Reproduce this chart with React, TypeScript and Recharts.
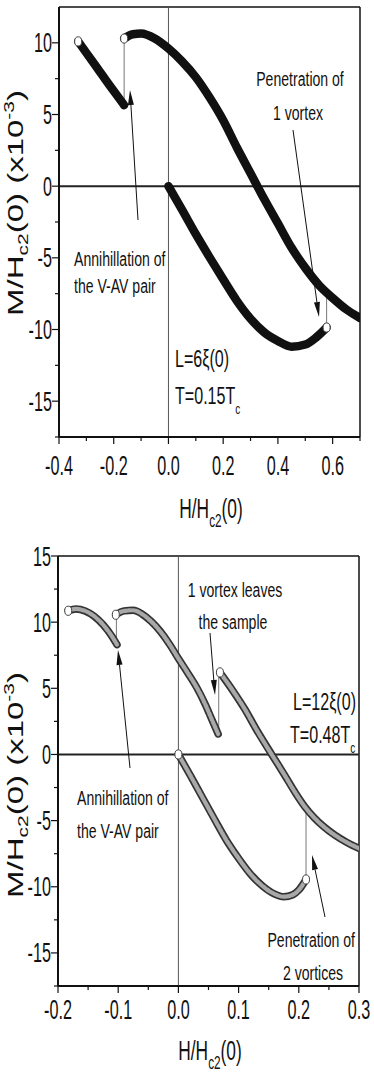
import { ComposedChart, Line, Scatter, XAxis, YAxis, ReferenceLine } from 'recharts'

type Pt = { x: number; y: number }

const FONT = "'Liberation Sans', Arial, Helvetica, sans-serif"
const INK = '#111'

// ---------- upper panel: L=6ξ(0), T=0.15Tc ----------
const topBranchA: Pt[] = [
  { x: -0.33, y: 10.1 }, { x: -0.3, y: 9.3 }, { x: -0.27, y: 8.5 }, { x: -0.24, y: 7.7 },
  { x: -0.21, y: 6.9 }, { x: -0.185, y: 6.25 }, { x: -0.162, y: 5.65 },
]
const topBranchB: Pt[] = [
  { x: -0.162, y: 10.3 }, { x: -0.13, y: 10.6 }, { x: -0.1, y: 10.65 }, { x: -0.05, y: 10.3 },
  { x: 0, y: 9.6 }, { x: 0.05, y: 8.7 }, { x: 0.1, y: 7.6 }, { x: 0.15, y: 6.2 },
  { x: 0.2, y: 4.6 }, { x: 0.25, y: 2.7 }, { x: 0.3, y: 0.9 }, { x: 0.35, y: -0.9 },
  { x: 0.4, y: -2.6 }, { x: 0.45, y: -4.3 }, { x: 0.5, y: -5.7 }, { x: 0.55, y: -6.9 },
  { x: 0.6, y: -7.8 }, { x: 0.65, y: -8.6 }, { x: 0.7, y: -9.2 },
]
const topBranchC: Pt[] = [
  { x: 0, y: 0 }, { x: 0.05, y: -1.65 }, { x: 0.1, y: -3.35 }, { x: 0.15, y: -4.95 },
  { x: 0.2, y: -6.5 }, { x: 0.25, y: -8.0 }, { x: 0.3, y: -9.25 }, { x: 0.35, y: -10.2 },
  { x: 0.4, y: -10.8 }, { x: 0.45, y: -11.2 }, { x: 0.5, y: -11.05 }, { x: 0.54, y: -10.55 },
  { x: 0.578, y: -9.86 },
]
const topJumps: Pt[][] = [
  [{ x: -0.162, y: 5.65 }, { x: -0.162, y: 10.3 }],
  [{ x: 0.578, y: -9.86 }, { x: 0.578, y: -7.4 }],
]
const topOpenEnds: Pt[] = [{ x: -0.33, y: 10.1 }, { x: -0.162, y: 10.3 }, { x: 0.578, y: -9.86 }]

const topXTicks = [-0.4, -0.3, -0.2, -0.1, 0, 0.1, 0.2, 0.3, 0.4, 0.5, 0.6, 0.7]
const topXMajor = [-0.4, -0.2, 0, 0.2, 0.4, 0.6]
const topYTicks = [-17.5, -15, -12.5, -10, -7.5, -5, -2.5, 0, 2.5, 5, 7.5, 10]
const topYMajor = [-15, -10, -5, 0, 5, 10]

// ---------- lower panel: L=12ξ(0), T=0.48Tc ----------
const botBranchA: Pt[] = [
  { x: -0.183, y: 10.86 }, { x: -0.17, y: 11.0 }, { x: -0.155, y: 10.85 }, { x: -0.14, y: 10.45 },
  { x: -0.125, y: 9.8 }, { x: -0.11, y: 8.9 }, { x: -0.102, y: 8.3 },
]
const botBranchB: Pt[] = [
  { x: -0.104, y: 10.56 }, { x: -0.09, y: 10.85 }, { x: -0.075, y: 10.9 }, { x: -0.06, y: 10.6 },
  { x: -0.045, y: 10.05 }, { x: -0.03, y: 9.3 }, { x: -0.015, y: 8.35 }, { x: 0, y: 7.25 },
  { x: 0.015, y: 6.2 }, { x: 0.03, y: 5.1 }, { x: 0.045, y: 3.75 }, { x: 0.055, y: 2.7 },
  { x: 0.066, y: 1.55 },
]
const botBranchC: Pt[] = [
  { x: 0.069, y: 6.2 }, { x: 0.09, y: 4.85 }, { x: 0.11, y: 3.45 }, { x: 0.13, y: 1.85 },
  { x: 0.155, y: 0 }, { x: 0.175, y: -1.45 }, { x: 0.195, y: -2.95 }, { x: 0.21, y: -3.95 },
  { x: 0.225, y: -4.75 }, { x: 0.24, y: -5.4 }, { x: 0.26, y: -6.1 }, { x: 0.28, y: -6.65 },
  { x: 0.3, y: -7.1 },
]
const botBranchD: Pt[] = [
  { x: 0, y: 0 }, { x: 0.02, y: -1.6 }, { x: 0.04, y: -3.25 }, { x: 0.06, y: -4.9 },
  { x: 0.08, y: -6.5 }, { x: 0.1, y: -7.85 }, { x: 0.12, y: -9.05 }, { x: 0.14, y: -9.95 },
  { x: 0.16, y: -10.55 }, { x: 0.175, y: -10.75 }, { x: 0.19, y: -10.6 }, { x: 0.2, y: -10.25 },
  { x: 0.212, y: -9.45 },
]
const botJumps: Pt[][] = [
  [{ x: -0.103, y: 8.3 }, { x: -0.103, y: 10.5 }],
  [{ x: 0.067, y: 1.55 }, { x: 0.067, y: 6.2 }],
  [{ x: 0.212, y: -9.45 }, { x: 0.212, y: -4.0 }],
]
const botOpenEnds: Pt[] = [
  { x: -0.183, y: 10.86 }, { x: -0.104, y: 10.56 }, { x: 0.069, y: 6.2 }, { x: 0, y: 0 }, { x: 0.212, y: -9.45 },
]

const botXTicks = [-0.2, -0.15, -0.1, -0.05, 0, 0.05, 0.1, 0.15, 0.2, 0.25, 0.3]
const botXMajor = [-0.2, -0.1, 0, 0.1, 0.2, 0.3]
const botYTicks = [-17.5, -15, -12.5, -10, -7.5, -5, -2.5, 0, 2.5, 5, 7.5, 10, 12.5, 15]
const botYMajor = [-15, -10, -5, 0, 5, 10, 15]

const isMajor = (v: number, majors: number[]) => majors.some((m) => Math.abs(m - v) < 1e-9)

function XTick(props: any) {
  const { x, y, payload, majors, labelDy } = props
  const major = isMajor(payload.value, majors)
  return (
    <g>
      <line x1={x} x2={x} y1={y} y2={y + (major ? 7 : 4)} stroke={INK} strokeWidth={1.2} />
      {major && (
        <text
          transform={`translate(${x} ${y + labelDy}) scale(0.6 1)`}
          textAnchor="middle"
          fontSize={27}
          fontFamily={FONT}
          fill={INK}
        >
          {payload.value.toFixed(1)}
        </text>
      )}
    </g>
  )
}

function YTick(props: any) {
  const { x, y, payload, majors } = props
  const major = isMajor(payload.value, majors)
  return (
    <g>
      <line x1={x - (major ? 7 : 4)} x2={x} y1={y} y2={y} stroke={INK} strokeWidth={1.2} />
      {major && (
        <text
          transform={`translate(${x - 7} ${y + 9.5}) scale(0.6 1)`}
          textAnchor="end"
          fontSize={27}
          fontFamily={FONT}
          fill={INK}
        >
          {String(payload.value)}
        </text>
      )}
    </g>
  )
}

const openCircle = (p: any) => (
  <ellipse cx={p.cx} cy={p.cy} rx={3.5} ry={4.6} fill="#fff" stroke="#444" strokeWidth={1} />
)

type PanelProps = {
  height: number
  margin: { top: number; right: number; bottom: number; left: number }
  yWidth: number
  xDomain: [number, number]
  yDomain: [number, number]
  xTicks: number[]
  xMajor: number[]
  yTicks: number[]
  yMajor: number[]
  labelDy: number
  branches: Pt[][]
  jumps: Pt[][]
  ends: Pt[]
  gray?: boolean
}

function Panel(p: PanelProps) {
  return (
    <ComposedChart width={374} height={p.height} margin={p.margin}>
      <XAxis
        type="number"
        dataKey="x"
        domain={p.xDomain}
        ticks={p.xTicks}
        interval={0}
        allowDataOverflow
        height={40}
        tickSize={0}
        tickMargin={0}
        tickLine={false}
        axisLine={{ stroke: INK, strokeWidth: 2 }}
        tick={<XTick majors={p.xMajor} labelDy={p.labelDy} />}
      />
      <YAxis
        type="number"
        domain={p.yDomain}
        ticks={p.yTicks}
        interval={0}
        allowDataOverflow
        width={p.yWidth}
        tickSize={0}
        tickMargin={0}
        tickLine={false}
        axisLine={{ stroke: INK, strokeWidth: 2 }}
        tick={<YTick majors={p.yMajor} />}
      />
      <ReferenceLine y={p.yDomain[1]} stroke={INK} strokeWidth={1.5} />
      <ReferenceLine x={p.xDomain[1]} stroke={INK} strokeWidth={1.5} />
      <ReferenceLine y={0} stroke="#222" strokeWidth={2} />
      <ReferenceLine x={0} stroke="#555" strokeWidth={1} />
      {p.jumps.map((d, i) => (
        <Line key={`j${i}`} data={d} dataKey="y" type="linear" stroke="#777" strokeWidth={1} dot={false} activeDot={false} isAnimationActive={false} />
      ))}
      {p.branches.map((d, i) => (
        <Line
          key={`b${i}`}
          data={d}
          dataKey="y"
          type="monotone"
          stroke={p.gray ? '#333' : INK}
          strokeWidth={p.gray ? 7.5 : 8.5}
          strokeLinecap="round"
          strokeLinejoin="round"
          dot={false}
          activeDot={false}
          isAnimationActive={false}
        />
      ))}
      {p.gray &&
        p.branches.map((d, i) => (
          <Line
            key={`g${i}`}
            data={d}
            dataKey="y"
            type="monotone"
            stroke="#a8a8a8"
            strokeWidth={4.2}
            strokeLinecap="round"
            strokeDasharray="3 1.5"
            dot={false}
            activeDot={false}
            isAnimationActive={false}
          />
        ))}
      <Scatter data={p.ends} dataKey="y" shape={openCircle} isAnimationActive={false} />
    </ComposedChart>
  )
}

function Txt({ x, y, size = 21, anchor = 'start', children }: any) {
  return (
    <text
      transform={`translate(${x} ${y}) scale(0.67 1)`}
      textAnchor={anchor}
      fontSize={size}
      fontFamily={FONT}
      fill={INK}
    >
      {children}
    </text>
  )
}

function Arrow({ from, to }: { from: [number, number]; to: [number, number] }) {
  const [x1, y1] = from
  const [x2, y2] = to
  const len = Math.hypot(x2 - x1, y2 - y1)
  const ux = (x2 - x1) / len
  const uy = (y2 - y1) / len
  const hl = 15
  const hw = 3
  const bx = x2 - ux * hl
  const by = y2 - uy * hl
  const pts = `${x2},${y2} ${bx - uy * hw},${by + ux * hw} ${bx + uy * hw},${by - ux * hw}`
  return (
    <g>
      <line x1={x1} y1={y1} x2={bx} y2={by} stroke={INK} strokeWidth={1} />
      <polygon points={pts} fill={INK} />
    </g>
  )
}

function YTitle({ cy }: { cy: number }) {
  return (
    <text
      transform={`translate(23 ${cy}) rotate(-90) scale(1.5 1)`}
      textAnchor="middle"
      fontSize={22}
      fontFamily={FONT}
      fill={INK}
    >
      M/H<tspan fontSize={14} dy={5}>c2</tspan>
      <tspan dy={-5}>(0) (x10</tspan>
      <tspan fontSize={14} dy={-9}>-3</tspan>
      <tspan dy={9}>)</tspan>
    </text>
  )
}

function XTitle({ cx, y }: { cx: number; y: number }) {
  return (
    <text
      transform={`translate(${cx} ${y}) scale(0.62 1)`}
      textAnchor="middle"
      fontSize={28}
      fontFamily={FONT}
      fill={INK}
    >
      H/H<tspan fontSize={19} dy={9}>c2</tspan>
      <tspan dy={-9}>(0)</tspan>
    </text>
  )
}

export default function App() {
  return (
    <div style={{ position: 'absolute', left: 0, top: 0, width: 374, height: 1080, background: '#fff' }}>
      <div style={{ position: 'absolute', left: 0, top: 0 }}>
        <Panel
          height={530}
          margin={{ top: 7, right: 14, bottom: 53, left: 0 }}
          yWidth={59}
          xDomain={[-0.4, 0.7]}
          yDomain={[-17.5, 12.5]}
          xTicks={topXTicks}
          xMajor={topXMajor}
          yTicks={topYTicks}
          yMajor={topYMajor}
          labelDy={38}
          branches={[topBranchA, topBranchB, topBranchC]}
          jumps={topJumps}
          ends={topOpenEnds}
        />
      </div>
      <div style={{ position: 'absolute', left: 0, top: 530 }}>
        <Panel
          height={550}
          margin={{ top: 26, right: 15, bottom: 54, left: 0 }}
          yWidth={58}
          xDomain={[-0.2, 0.3]}
          yDomain={[-17.5, 15]}
          xTicks={botXTicks}
          xMajor={botXMajor}
          yTicks={botYTicks}
          yMajor={botYMajor}
          labelDy={33}
          branches={[botBranchA, botBranchB, botBranchC, botBranchD]}
          jumps={botJumps}
          ends={botOpenEnds}
          gray
        />
      </div>
      <svg
        width={374}
        height={1080}
        style={{ position: 'absolute', left: 0, top: 0, pointerEvents: 'none' }}
      >
        {/* upper panel annotations */}
        <Txt x={300} y={86} anchor="middle">Penetration of</Txt>
        <Txt x={298} y={120} anchor="middle">1 vortex</Txt>
        <Arrow from={[293, 130]} to={[319, 317]} />
        <Txt x={74} y={266}>Annihillation of</Txt>
        <Txt x={74} y={293}>the V-AV pair</Txt>
        <Arrow from={[138, 220]} to={[130, 90]} />
        <Txt x={175} y={367} size={24}>L=6ξ(0)</Txt>
        <Txt x={175} y={404} size={24}>
          T=0.15T<tspan fontSize={15} dy={10}>c</tspan>
        </Txt>
        <YTitle cy={203} />
        <XTitle cx={211} y={518} />

        {/* lower panel annotations */}
        <Txt x={235} y={597} anchor="middle">1 vortex leaves</Txt>
        <Txt x={233} y={629} anchor="middle">the sample</Txt>
        <Arrow from={[210, 633]} to={[215, 695]} />
        <Txt x={293} y={710} size={24}>L=12ξ(0)</Txt>
        <Txt x={290} y={743} size={24}>
          T=0.48T<tspan fontSize={15} dy={10}>c</tspan>
        </Txt>
        <Txt x={77} y={805}>Annihillation of</Txt>
        <Txt x={77} y={838}>the V-AV pair</Txt>
        <Arrow from={[130, 768]} to={[118, 650]} />
        <Txt x={355} y={947} anchor="end">Penetration of</Txt>
        <Txt x={313} y={980} anchor="middle">2 vortices</Txt>
        <Arrow from={[325, 917]} to={[312, 855]} />
        <YTitle cy={785} />
        <XTitle cx={210} y={1060} />
      </svg>
    </div>
  )
}
